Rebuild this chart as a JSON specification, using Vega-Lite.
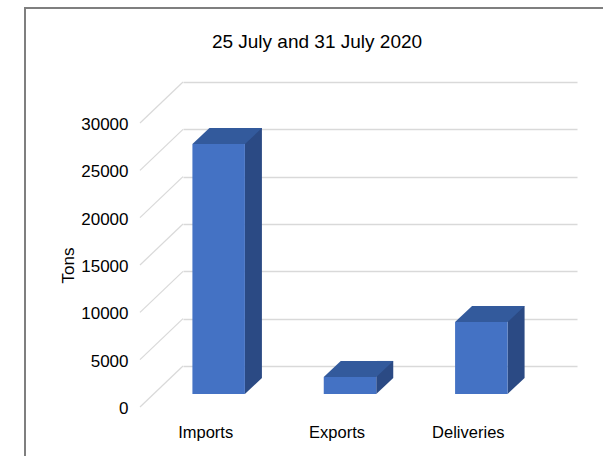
{
  "$schema": "https://vega.github.io/schema/vega-lite/v6.json",
  "width": 600,
  "height": 460,
  "autosize": "none",
  "padding": {"left": 25, "top": 8, "right": 0, "bottom": 0},
  "background": "white",
  "config": {
    "view": {"stroke": "#7f7f7f", "strokeWidth": 2},
    "font": "Liberation Sans"
  },
  "title": {
    "text": "25 July and 31 July 2020",
    "frame": "group",
    "anchor": "start",
    "align": "center",
    "baseline": "alphabetic",
    "dx": 292,
    "dy": 59,
    "offset": 0,
    "fontSize": 19,
    "fontWeight": "normal",
    "font": "Liberation Sans",
    "color": "#000000"
  },
  "datasets": {
    "bars": [
      {"category": "Imports", "tons": 26400},
      {"category": "Exports", "tons": 1800},
      {"category": "Deliveries", "tons": 7600}
    ],
    "ticks": [
      {"tick": 0}, {"tick": 5000}, {"tick": 10000}, {"tick": 15000},
      {"tick": 20000}, {"tick": 25000}, {"tick": 30000}
    ]
  },
  "layer": [
    {
      "data": {"name": "bars"},
      "mark": {"type": "bar", "width": 17, "xOffset": 4.75, "yOffset": 12, "y2Offset": 12, "color": "#2B4A84"},
      "encoding": {
        "x": {
          "field": "category",
          "type": "nominal",
          "sort": ["Imports", "Exports", "Deliveries"],
          "scale": {"range": [158, 552], "paddingInner": 0, "paddingOuter": 0},
          "axis": {
            "title": null,
            "domain": false,
            "ticks": false,
            "tickSize": 0,
            "grid": false,
            "labelAngle": 0,
            "labelPadding": -31,
            "labelBaseline": "alphabetic",
            "labelOffset": -43,
            "labelFontSize": 16.5,
            "labelFont": "Liberation Sans",
            "labelColor": "#000000"
          }
        },
        "y": {
          "field": "tons",
          "type": "quantitative",
          "scale": {"domain": [0, 30000], "range": [358, 74], "nice": false, "zero": true},
          "axis": {
            "title": "Tons",
            "values": [0, 5000, 10000, 15000, 20000, 25000, 30000],
            "format": "d",
            "domain": false,
            "ticks": false,
            "tickSize": 0,
            "grid": true,
            "gridColor": "#d9d9d9",
            "gridWidth": 1.5,
            "labelPadding": -103,
            "labelOffset": 42.5,
            "labelBaseline": "middle",
            "labelFontSize": 17,
            "labelFont": "Liberation Sans",
            "labelColor": "#000000",
            "titleX": 43,
            "titleY": 257,
            "titleAngle": 270,
            "titleAlign": "center",
            "titleBaseline": "middle",
            "titleFontSize": 17,
            "titleFontWeight": "normal",
            "titleFont": "Liberation Sans",
            "titleColor": "#000000"
          }
        },
        "y2": {"datum": 0}
      }
    },
    {
      "data": {"name": "ticks"},
      "mark": {"type": "point", "shape": "M0,0 L-43,41", "size": 4, "filled": false, "stroke": "#d9d9d9", "strokeWidth": 1.2, "opacity": 1},
      "encoding": {
        "x": {"datum": "Imports", "bandPosition": 0},
        "y": {"field": "tick", "type": "quantitative"}
      }
    },
    {
      "data": {"name": "bars"},
      "mark": {"type": "point", "shape": "M0,0 L0,-16 L17,-16 Z", "size": 4, "filled": true, "color": "#2B4A84", "opacity": 1, "xOffset": -3.75, "yOffset": 28},
      "encoding": {
        "x": {"field": "category", "type": "nominal", "sort": ["Imports", "Exports", "Deliveries"]},
        "y": {"datum": 0}
      }
    },
    {
      "data": {"name": "bars"},
      "mark": {"type": "bar", "width": 52.5, "xOffset": -30, "yOffset": 28, "y2Offset": 28, "color": "#4472C4"},
      "encoding": {
        "x": {"field": "category", "type": "nominal", "sort": ["Imports", "Exports", "Deliveries"]},
        "y": {"field": "tons", "type": "quantitative"},
        "y2": {"datum": 0}
      }
    },
    {
      "data": {"name": "bars"},
      "mark": {"type": "point", "shape": "M-26.25,0 L26.25,0 L43.25,-16 L-9.25,-16 Z", "size": 4, "filled": true, "color": "#335A9C", "opacity": 1, "xOffset": -30, "yOffset": 28},
      "encoding": {
        "x": {"field": "category", "type": "nominal", "sort": ["Imports", "Exports", "Deliveries"]},
        "y": {"field": "tons", "type": "quantitative"}
      }
    }
  ]
}
